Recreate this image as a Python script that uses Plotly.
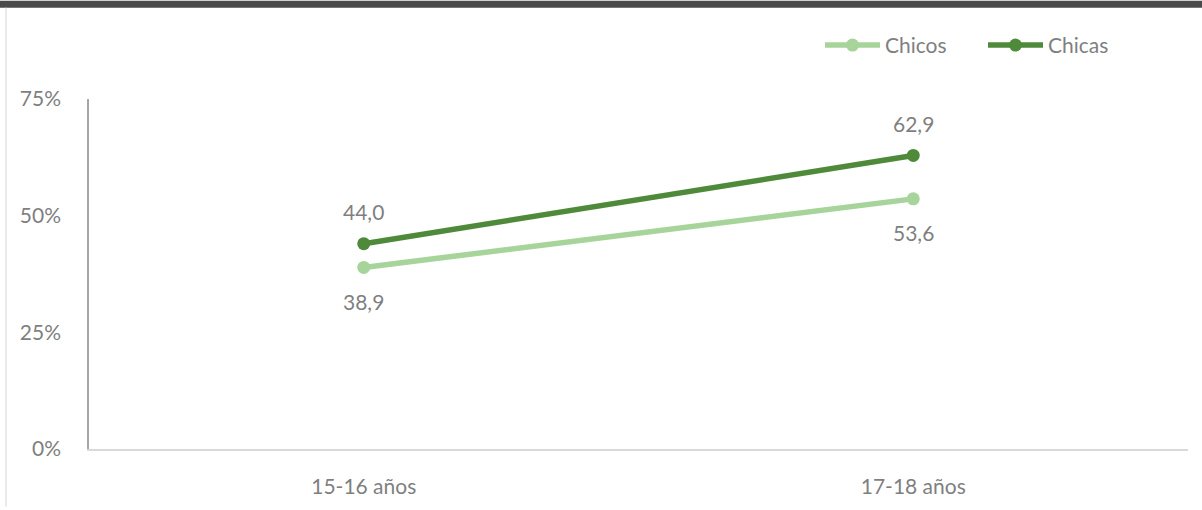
import plotly.graph_objects as go

categories = ["15-16 años", "17-18 años"]
chicos = [38.9, 53.6]
chicas = [44.0, 62.9]
y_ticks = [0, 25, 50, 75]
y_tick_labels = ["0%", "25%", "50%", "75%"]

W, H = 1202, 510
L, R, T, B = 89, 14, 99, 58
pw, ph = W - L - R, H - T - B

def px_x(p):
    return (p - L) / pw

def px_y(p):
    return (H - B - p) / ph

light = "#a6d49a"
dark = "#4f8a3a"
grey_text = "#7f7f7f"
font_family = "Lato, Open Sans, sans-serif"
FS = 21

def fmt(v):
    return f"{v:.1f}".replace(".", ",")

fig = go.Figure()
fig.add_trace(go.Scatter(
    x=categories, y=chicos, name="Chicos", mode="lines+markers",
    line=dict(color=light, width=5.5), marker=dict(color=light, size=13),
))
fig.add_trace(go.Scatter(
    x=categories, y=chicas, name="Chicas", mode="lines+markers",
    line=dict(color=dark, width=5.5), marker=dict(color=dark, size=13),
))

annotations = []
for c, v in zip(categories, chicos):
    annotations.append(dict(x=c, y=v, text=fmt(v), showarrow=False, yshift=-34,
                            font=dict(size=FS, color=grey_text, family=font_family)))
for c, v in zip(categories, chicas):
    annotations.append(dict(x=c, y=v, text=fmt(v), showarrow=False, yshift=32,
                            font=dict(size=FS, color=grey_text, family=font_family)))

fig.update_layout(
    width=W, height=H,
    margin=dict(l=L, r=R, t=T, b=B),
    plot_bgcolor="white", paper_bgcolor="white",
    font=dict(family=font_family, size=FS, color=grey_text),
    showlegend=True,
    annotations=annotations,
    legend=dict(orientation="h", x=px_x(820), y=px_y(45), xanchor="left", yanchor="middle",
                font=dict(size=FS, color=grey_text), itemwidth=55,
                entrywidth=93, entrywidthmode="pixels", bgcolor="rgba(0,0,0,0)"),
    xaxis=dict(showgrid=False, showline=True, linecolor="#d9d9d9", linewidth=2,
               ticks="", ticklabelstandoff=18, range=[-0.5, 1.5], zeroline=False,
               tickfont=dict(size=FS, color=grey_text)),
    yaxis=dict(range=[0, 75], tickvals=y_ticks, ticktext=y_tick_labels, showgrid=False,
               showline=True, linecolor="#a6a6a6", linewidth=1.5, zeroline=False,
               ticks="", ticklabelstandoff=22, tickfont=dict(size=FS, color=grey_text)),
    shapes=[
        dict(type="rect", xref="paper", yref="paper", x0=px_x(0), x1=px_x(W), y0=px_y(0), y1=px_y(7),
             fillcolor="#4a4a4a", line=dict(width=0), layer="above"),
        dict(type="line", xref="paper", yref="paper", x0=px_x(6), x1=px_x(6), y0=px_y(7), y1=px_y(H),
             line=dict(color="#e3e3e3", width=1.5)),
    ],
)

fig.write_html("out.html", config={"displayModeBar": False},
               post_script="document.body.style.margin='0';document.body.style.overflow='hidden';")
